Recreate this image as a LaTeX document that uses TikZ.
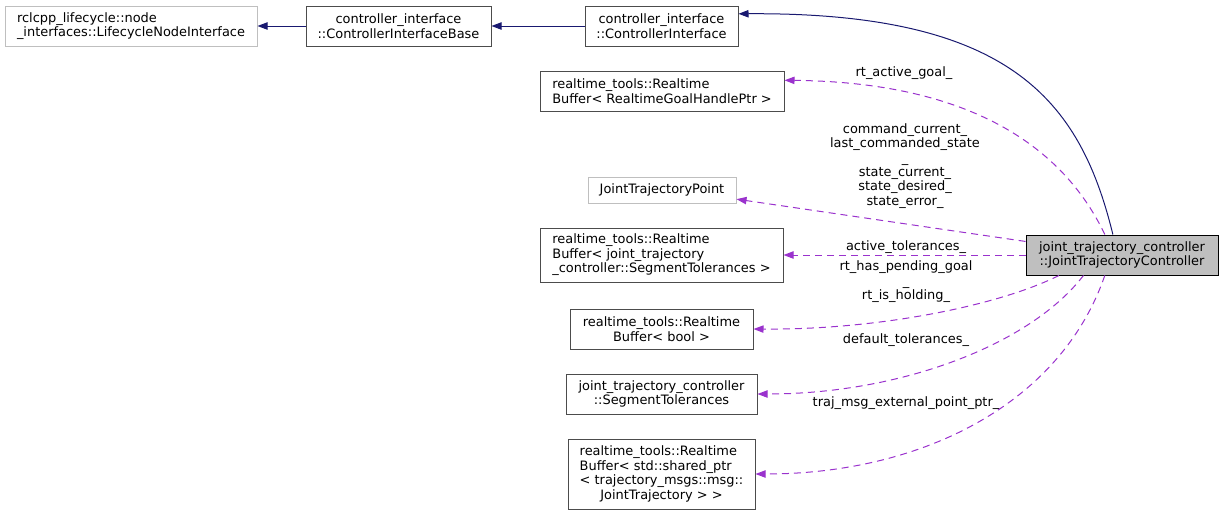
\documentclass[tikz,border=0pt]{standalone}
\usepackage{fontspec}
\setmainfont{DejaVu Sans}
\usepackage{tikz}
\usetikzlibrary{arrows.meta, positioning}
\definecolor{inhblue}{HTML}{191970}
\definecolor{usepurple}{HTML}{9A32CD}
\definecolor{undocgray}{HTML}{BFBFBF}
\newcommand{\lline}[1]{\makebox[122.7pt][l]{#1}}

\begin{document}
\begin{tikzpicture}[
    x=0.75pt, y=-0.75pt,
    every node/.style={font=\fontsize{9.7}{10.8}\selectfont, inner sep=0pt},
    cls/.style={rectangle, draw=black!70, line width=0.75pt, fill=white, align=center},
    undoc/.style={rectangle, draw=undocgray, line width=0.75pt, fill=white, align=center},
    current/.style={rectangle, draw=black, line width=0.75pt, fill=undocgray, align=center},
    lbl/.style={align=center},
    inherit/.style={-{Triangle[length=7.5pt, width=5.5pt]}, draw=inhblue, line width=0.75pt},
    member/.style={-{Triangle[length=7.5pt, width=5.5pt]}, draw=usepurple, line width=0.75pt,
                   dash pattern=on 5.25pt off 3.75pt}
]
    \useasboundingbox (0,0) rectangle (1223,515);

    % Base classes
    \node[undoc, minimum width=189pt, minimum height=30pt, align=left] (lni) at (131,26)
        {rclcpp\_lifecycle::node\\\_interfaces::LifecycleNodeInterface};
    \node[cls, minimum width=138.75pt, minimum height=30pt] (cib) at (398.5,26)
        {controller\_interface\\::ControllerInterfaceBase};
    \node[cls, minimum width=114.75pt, minimum height=30pt] (ci) at (661.5,26)
        {controller\_interface\\::ControllerInterface};

    % Member types
    \node[cls, minimum width=183pt, minimum height=30pt, align=left] (rgh) at (662,91)
        {realtime\_tools::Realtime\\Buffer< RealtimeGoalHandlePtr >};
    \node[undoc, minimum width=111pt, minimum height=19.5pt] (jtp) at (662,190)
        {JointTrajectoryPoint};
    \node[cls, minimum width=182.25pt, minimum height=40.5pt, align=left] (rst) at (661.5,255)
        {realtime\_tools::Realtime\\Buffer< joint\_trajectory\\\_controller::SegmentTolerances >};
    \node[cls, minimum width=137.25pt, minimum height=30pt] (rbb) at (661.5,329)
        {realtime\_tools::Realtime\\Buffer< bool >};
    \node[cls, minimum width=143.25pt, minimum height=30pt] (st) at (661.5,394)
        {joint\_trajectory\_controller\\::SegmentTolerances};
    \node[cls, minimum width=140.25pt, minimum height=52.5pt] (rsp) at (661.5,474)
        {\lline{realtime\_tools::Realtime}\\\lline{Buffer< std::shared\_ptr}\\
         \lline{< trajectory\_msgs::msg::}\\JointTrajectory > >};

    % Current class
    \node[current, minimum width=144pt, minimum height=30pt] (jtc) at (1122,255)
        {joint\_trajectory\_controller\\::JointTrajectoryController};

    % Member labels
    \node[lbl] (l1) at (904,73) {rt\_active\_goal\_};
    \node[lbl] (l2) at (905,166) {command\_current\_\\last\_commanded\_state\\\_\\state\_current\_\\state\_desired\_\\state\_error\_};
    \node[lbl] (l3) at (906,247) {active\_tolerances\_};
    \node[lbl] (l4) at (906,282) {rt\_has\_pending\_goal\\\_\\rt\_is\_holding\_};
    \node[lbl] (l5) at (906,340) {default\_tolerances\_};
    \node[lbl] (l6) at (906,403) {traj\_msg\_external\_point\_ptr\_};

    % Inheritance arrows
    \draw[inherit] (cib) -- (lni);
    \draw[inherit] (ci) -- (cib);
    \draw[inherit] (jtc.114) .. controls (1080,100) and (1010,12) .. (ci.9);

    % Member arrows
    \draw[member] (jtc.130) .. controls (1060,140) and (960,82) .. (rgh.5);
    \draw[member] (jtc.172) -- (jtp.-7);
    \draw[member] (jtc.west) -- (rst.east);
    \draw[member] (jtc.198) .. controls (1000,305) and (880,330) .. (rbb.east);
    \draw[member] (jtc.208) .. controls (1030,345) and (900,394) .. (st.east);
    \draw[member] (jtc.230) .. controls (1060,405) and (920,474) .. (rsp.east);
\end{tikzpicture}
\end{document}
